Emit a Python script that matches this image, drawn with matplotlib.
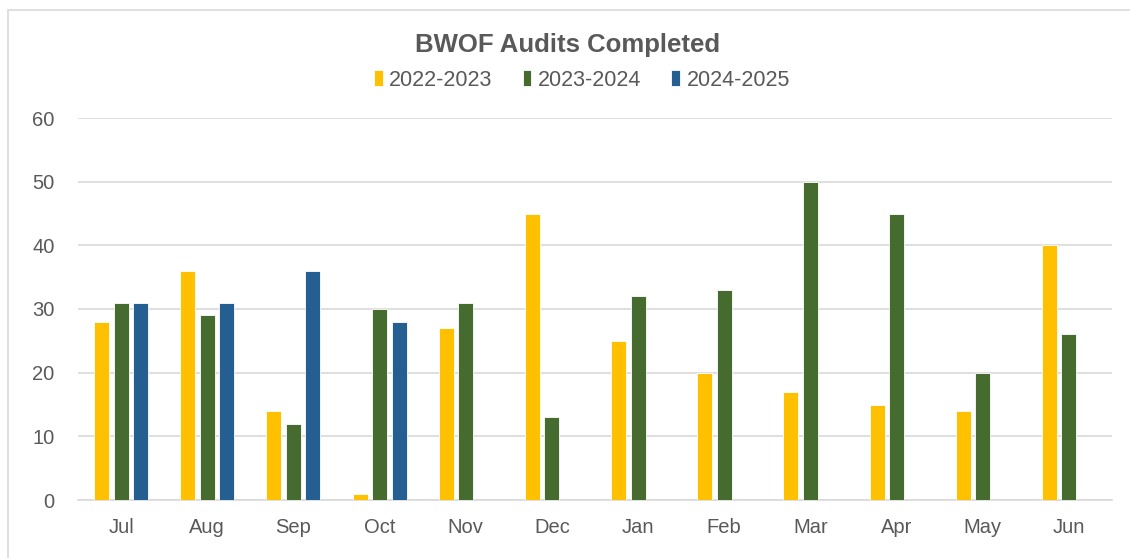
import matplotlib
matplotlib.use("Agg")
import matplotlib.pyplot as plt
from matplotlib.patches import Rectangle
import numpy as np

months = ["Jul", "Aug", "Sep", "Oct", "Nov", "Dec", "Jan", "Feb", "Mar", "Apr", "May", "Jun"]
fy_2022_2023 = [28, 36, 14, 1, 27, 45, 25, 20, 17, 15, 14, 40]
fy_2023_2024 = [31, 29, 12, 30, 31, 13, 32, 33, 50, 45, 20, 26]
fy_2024_2025 = [31, 31, 36, 28, None, None, None, None, None, None, None, None]
series_labels = ["2022-2023", "2023-2024", "2024-2025"]
colors = ["#FFC000", "#466B2E", "#255E91"]

plt.rcParams['font.family'] = ['Liberation Sans', 'DejaVu Sans']

fig = plt.figure(figsize=(11.3, 5.58), dpi=100)
# outer chart border
fig.patches.append(Rectangle((8/1130, -0.01), 1.2, (558-10)/558 + 0.01, transform=fig.transFigure,
                             fill=False, edgecolor="#D9D9D9", linewidth=1.2))
ax = fig.add_axes([78/1130, (558-500)/558, (1112-78)/1130, (500-118)/558])

x = np.arange(len(months))
w = 0.175
step = 0.226
for i, (vals, lab, c) in enumerate(zip([fy_2022_2023, fy_2023_2024, fy_2024_2025], series_labels, colors)):
    xs = [xi + (i - 1) * step for xi, v in zip(x, vals) if v is not None]
    vs = [v for v in vals if v is not None]
    ax.bar(xs, vs, width=w, color=c, edgecolor="white", linewidth=0.6, label=lab, zorder=3)

ax.set_xlim(-0.5, len(months) - 0.5)
ax.set_ylim(0, 60)
ax.set_yticks(range(0, 61, 10))
ax.set_xticks(x)
ax.set_xticklabels(months)
ax.yaxis.grid(True, color="#D9D9D9", linewidth=1.2, zorder=0)
ax.set_axisbelow(True)
for s in ["top", "right", "left"]:
    ax.spines[s].set_visible(False)
ax.spines["bottom"].set_color("#D9D9D9")
ax.spines["bottom"].set_linewidth(1.2)
ax.tick_params(axis="both", length=0, labelsize=14.5, colors="#595959")
ax.tick_params(axis="y", pad=17)
ax.tick_params(axis="x", pad=13)

fig.text(568/1130, 1 - 45/558, "BWOF Audits Completed", ha="center", va="center",
         fontsize=18.5, fontweight="bold", color="#595959")
handles, labels = ax.get_legend_handles_labels()
leg = fig.legend(handles, labels, loc="center", bbox_to_anchor=(582/1130, 1 - 80/558), ncol=3,
                 frameon=False, fontsize=15.5, handlelength=0.4, handleheight=0.8,
                 handletextpad=0.3, columnspacing=1.4, labelcolor="#595959")

fig.savefig("out.png", dpi=100, facecolor="white")
